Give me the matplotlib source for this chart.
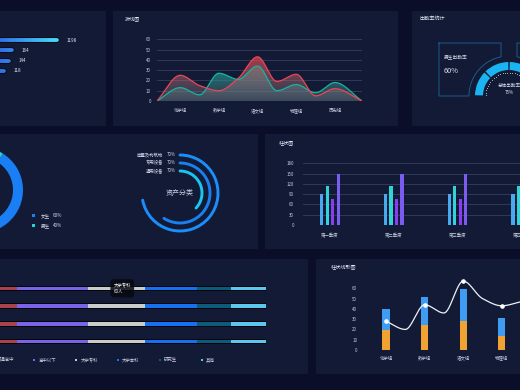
import numpy as np
import matplotlib.pyplot as plt
from matplotlib.patches import Rectangle, Wedge, Arc, Polygon
from matplotlib.collections import LineCollection
from matplotlib.colors import to_rgb

plt.rcParams['font.family'] = ['Noto Sans CJK SC', 'DejaVu Sans']

W, H = 520, 390
BG = '#0b0e28'
PANEL = '#131a35'
TITLE = '#e6eaf5'
TICK = '#c5cbdf'
GRID = '#383f5e'

#Data:
rank_values = [1198, 164, 144, 118]

line_cats = ['化学组', '数学组', '语文组', '物理组', '历史组']
line_x = [-0.6, 0, 0.5, 1, 1.5, 2, 2.5, 3, 3.5, 4, 4.7]
line_red = [0, 25, 15, 10, 22, 43, 19, 26, 5, 12, 0]
line_green = [0, 13, 6, 27, 21, 34, 10, 16, 8, 18, 0]

boy_rate = 60
total_rate = 75

gender_names = ['女生', '男生']
gender_pct = [60, 40]
gender_colors = ['#1a7ff5', '#22d3d8']

asset_names = ['房屋及构筑物', '专用设备', '通用设备']
asset_label_pct = [70, 70, 70]
asset_arc_pct = [72, 59, 37]

quarters = ['第一季度', '第二季度', '第三季度', '第四季度']
q_s1 = [90, 90, 90, 90]
q_s2 = [115, 115, 115, 115]
q_s3 = [75, 75, 75, 75]
q_s4 = [150, 150, 150, 150]

edu_names = ['普通高中', '高中以下', '大学专科', '大学本科', '研究生', '其他']
edu_rows = [
    [30, 75, 60, 55, 35, 37],
    [30, 75, 60, 55, 35, 37],
    [30, 75, 60, 55, 35, 37],
    [30, 75, 60, 55, 35, 37],
]
edu_colors = ['#a8434b', '#7a63e6', '#c9cdc9', '#1670f0', '#0e5a7a', '#5bc6ee']

combo_cats = ['化学组', '数学组', '语文组', '物理组']
combo_low = [19, 24, 28, 14]
combo_high = [21, 28, 31, 17]
combo_line_x = [0, 0.5, 1, 1.5, 2, 2.5, 3, 3.5]
combo_line = [28, 20, 44, 36, 67, 50, 43, 47]


def pchip(x, y, n=400):
    # monotone cubic, only used to draw the smooth lines
    x = np.asarray(x, float)
    y = np.asarray(y, float)
    h = np.diff(x)
    d = np.diff(y) / h
    m = np.zeros_like(y)
    for k in range(1, len(x) - 1):
        if d[k - 1] * d[k] > 0:
            w1 = 2 * h[k] + h[k - 1]
            w2 = h[k] + 2 * h[k - 1]
            m[k] = (w1 + w2) / (w1 / d[k - 1] + w2 / d[k])
    m[0] = d[0]
    m[-1] = d[-1]
    xs = np.linspace(x[0], x[-1], n)
    idx = np.clip(np.searchsorted(x, xs) - 1, 0, len(h) - 1)
    t = (xs - x[idx]) / h[idx]
    ys = ((2 * t**3 - 3 * t**2 + 1) * y[idx] + (t**3 - 2 * t**2 + t) * h[idx] * m[idx]
          + (-2 * t**3 + 3 * t**2) * y[idx + 1] + (t**3 - t**2) * h[idx] * m[idx + 1])
    return xs, ys


def px_axes(x0, y0, x1, y1):
    ax = fig.add_axes([x0 / W, 1 - y1 / H, (x1 - x0) / W, (y1 - y0) / H])
    ax.set_facecolor('none')
    for s in ax.spines.values():
        s.set_visible(False)
    return ax


def gradient_fill(ax, xs, ys, c_top, c_bot, a_top, a_bot, z):
    n = 256
    t = np.linspace(0, 1, n)
    top, bot = np.array(to_rgb(c_top)), np.array(to_rgb(c_bot))
    img = np.zeros((n, 1, 4))
    img[:, 0, :3] = bot + (top - bot) * t[:, None]
    img[:, 0, 3] = a_bot + (a_top - a_bot) * t
    im = ax.imshow(img, extent=[xs.min(), xs.max(), 0, ys.max()], origin='lower',
                   aspect='auto', zorder=z)
    verts = np.column_stack([np.r_[xs, xs[::-1]], np.r_[ys, np.zeros_like(ys)]])
    clip = Polygon(verts, closed=True, fc='none', ec='none', transform=ax.transData)
    ax.add_patch(clip)
    im.set_clip_path(clip)


fig = plt.figure(figsize=(5.2, 3.9), dpi=100, facecolor=BG)

#Background and panels:
bg = fig.add_axes([0, 0, 1, 1])
bg.set_xlim(0, W)
bg.set_ylim(H, 0)
bg.axis('off')
panels = [(-5, 10.5, 106, 126), (113, 10.5, 398, 125.5), (412, 10.5, 530, 126),
          (-5, 134, 258, 249), (265, 134, 530, 249),
          (-5, 259, 308, 374), (316, 259, 530, 374)]
for x0, y0, x1, y1 in panels:
    bg.add_patch(Rectangle((x0, y0), x1 - x0, y1 - y0, color=PANEL, lw=0))
for txt, x, y in [('折线图', 125, 18.5), ('出勤率统计', 420, 18.3),
                  ('柱状图', 279, 142.5), ('柱状线形图', 330.5, 267)]:
    bg.text(x, y, txt, color=TITLE, fontsize=3.7, va='center', ha='left')

#Panel A: ranking bars (left part cut off)
ax = px_axes(0, 35, 100, 76)
ax.set_xscale('log')
lo, hi = 99, 7830
for i, v in enumerate(rank_values):
    ax.plot([1, v], [i, i], color='#060918', lw=4.0, solid_capstyle='round', zorder=1)
    pts = np.geomspace(1, v, 81)
    segs = [[(pts[k], i), (pts[k + 1], i)] for k in range(80)]
    mid = np.sqrt(pts[:-1] * pts[1:])
    f = np.clip((np.log10(mid) - np.log10(lo)) / (np.log10(1198) - np.log10(lo)), 0, 1)
    c0, c1 = np.array(to_rgb('#2f6ee6')), np.array(to_rgb('#45d8f8'))
    cols = c0 + (c1 - c0) * f[:, None]
    ax.add_collection(LineCollection(segs, colors=cols, lw=2.7, capstyle='round', zorder=2))
    ax.annotate(str(v), (v, i), xytext=(7, 0), textcoords='offset points',
                va='center', ha='left', fontsize=3.3, color='#e0e4f0')
ax.set_xlim(lo, hi)
ax.set_ylim(3.5, -0.5)
ax.axis('off')

#Panel B: smooth area lines
ax = px_axes(157, 39.3, 362, 101)
xr, yr = pchip(line_x, line_red)
xg, yg = pchip(line_x, line_green)
gradient_fill(ax, xg, yg, '#0e9c8f', '#5d7380', 0.85, 0.3, 1)
gradient_fill(ax, xr, yr, '#d93f4d', '#7b8790', 0.8, 0.25, 2)
ax.plot(xg, yg, color='#14b79d', lw=0.9, zorder=3)
ax.plot(xr, yr, color='#ee4553', lw=0.9, zorder=4)
for yv in range(0, 70, 10):
    ax.axhline(yv, color=GRID, lw=0.6, zorder=0)
ax.set_xlim(line_x[0], line_x[-1])
ax.set_ylim(0, 60)
ax.set_yticks(range(0, 70, 10))
ax.set_xticks(range(len(line_cats)))
ax.set_xticklabels(line_cats)
ax.tick_params(length=0, labelsize=3.2, colors=TICK)
ax.tick_params(axis='y', pad=4.3)
ax.tick_params(axis='x', pad=4.9)

#Panel C: attendance gauge
ax = px_axes(429, 30, 589, 130)
ax.set_xlim(-80, 80)
ax.set_ylim(-34, 66)
ax.axis('off')
edges = np.linspace(180, 180 - 180 * total_rate / 100, 4)
for a, b in zip(edges[:-1], edges[1:]):
    ax.add_patch(Wedge((0, 0), 34, b + 1.3, a - 1.3, width=8, color='#1ab4f2', lw=0))
dots = np.radians(np.arange(178, 40, -6))
ax.scatter(23.5 * np.cos(dots), 23.5 * np.sin(dots), s=0.25, color='white', lw=0)
for sgn in (-1, 1):
    meet = np.sqrt(40**2 - 8**2)
    start = np.degrees(np.arctan2(meet, -8))
    ang = np.radians(np.linspace(start, 180, 40))
    bx = list(np.r_[-70, -8, -8, 40 * np.cos(ang), -70, -70])
    by = list(np.r_[53, 53, meet, 40 * np.sin(ang), 0, 53])
    ax.plot(sgn * np.array(bx), by, color='#1c5a8c', lw=0.7)
ax.text(-65, 39, '男生出勤率', color='#d6dbea', fontsize=3.4, va='center')
ax.text(-65, 25, f'{boy_rate}%', color='#d6dbea', fontsize=5.3, va='center')
ax.text(0, 11, '总体出勤率', color='#d6dbea', fontsize=3.3, ha='center', va='center')
ax.text(0, 3, f'{total_rate}%', color='#d6dbea', fontsize=3.3, ha='center', va='center')

#Panel D: gender donut (cut off) and asset arcs
ax = px_axes(-63, 147, 23, 233)
ax.pie(gender_pct, colors=gender_colors, startangle=58, counterclock=False,
       radius=1, wedgeprops=dict(width=0.233, lw=0))
ax.set_xlim(-1, 1)
ax.set_ylim(-1, 1)
ax.set_aspect('equal')
for i, (name, pct) in enumerate(zip(gender_names, gender_pct)):
    y = 215.7 + 10 * i
    bg.add_patch(Rectangle((31.7, y - 1.65), 3.3, 3.3, color=gender_colors[i], lw=0))
    bg.text(41, y, name, color='#cfd5e6', fontsize=3.3, va='center')
    bg.text(53, y, f'{pct}%', color='#cfd5e6', fontsize=3.3, va='center')

ax = px_axes(135, 148, 225, 238)
ax.set_xlim(-45, 45)
ax.set_ylim(-45, 45)
ax.axis('off')
radii = [38, 30, 22]
arc_colors = ['#1a8ffc', '#1a80f0', '#18c6f2']
for r, p, c, name, lp in zip(radii, asset_arc_pct, arc_colors, asset_names, asset_label_pct):
    ax.add_patch(Arc((0, 0), 2 * r, 2 * r, theta1=90 - 3.6 * p, theta2=90,
                     color=c, lw=2.1, capstyle='round'))
    ax.text(-16.7, r, name, color='#cfd5e6', fontsize=3.2, ha='right', va='center')
    ax.text(-13.3, r, f'{lp}%', color='#cfd5e6', fontsize=3.2, ha='left', va='center')
ax.text(0, 0, '资产分类', color='#cdd3e6', fontsize=5, ha='center', va='center')

#Panel E: quarterly grouped bars
ax = px_axes(303, 163.3, 558, 225)
x = np.arange(len(quarters))
step = 5.5 / 63.7
bw = 3.3 / 63.7
q_colors = ['#47a9f0', '#2fd3d8', '#8a3df2', '#7a5df0']
for k, (s, c) in enumerate(zip([q_s1, q_s2, q_s3, q_s4], q_colors)):
    ax.bar(x + (k - 1.5) * step, s, width=bw, color=c, zorder=2)
for yv in range(0, 210, 30):
    ax.axhline(yv, color=GRID, lw=0.6, zorder=0)
ax.set_xlim(-0.424, -0.424 + 255 / 63.7)
ax.set_ylim(0, 180)
ax.set_yticks(range(0, 210, 30))
ax.set_xticks(x)
ax.set_xticklabels(quarters)
ax.tick_params(length=0, labelsize=3.2, colors=TICK)
ax.tick_params(axis='y', pad=6.5)
ax.tick_params(axis='x', pad=6.2)

#Panel F: education stacked bars (left part cut off)
ax = px_axes(-11.7, 279.4, 265.7, 350.6)
for r, row in enumerate(edu_rows):
    ax.barh(r, sum(row), height=0.3, color='#04060d', zorder=1)
    left = 0
    for v, c in zip(row, edu_colors):
        ax.barh(r, v, left=left, height=0.18, color=c, lw=0, zorder=2)
        left += v
tip_x = sum(edu_rows[0][:2]) + edu_rows[0][2] * 0.6
ax.text(tip_x, 0, f'{edu_names[2]}\n{edu_rows[0][2]}人', color='white', fontsize=3.2,
        ha='center', va='center', multialignment='left', linespacing=1.5, zorder=5,
        bbox=dict(boxstyle='round,pad=0.7', fc='#07080f', ec='none', alpha=0.85))
ax.set_xlim(0, sum(edu_rows[0]))
ax.set_ylim(3.5, -0.5)
ax.axis('off')
for i, (name, c) in enumerate(zip(edu_names, edu_colors)):
    dx = -7.5 + 41.8 * i
    bg.add_patch(Rectangle((dx - 1, 359), 2, 2, color=c, lw=0))
    bg.text(dx + 4.4, 360, name, color='#c8cee0', fontsize=3.2, va='center')

#Panel G: stacked bars with smooth line
ax = px_axes(360, 288.3, 560, 350)
x = np.arange(len(combo_cats))
ax.bar(x, combo_low, width=0.19, color='#f0a232', zorder=2)
ax.bar(x, combo_high, bottom=combo_low, width=0.19, color='#3f9cf2', zorder=2)
lx, ly = pchip(combo_line_x, combo_line)
ax.plot(lx, ly, color='#eef1f7', lw=0.9, zorder=3, clip_on=False)
pts_x = [v for v in combo_line_x if v == int(v)]
pts_y = [combo_line[combo_line_x.index(v)] for v in pts_x]
ax.plot(pts_x, pts_y, 'o', color='white', ms=2.3, zorder=4, clip_on=False)
ax.set_xlim(-0.674, -0.674 + 200 / 38.6)
ax.set_ylim(0, 60)
ax.set_yticks(range(0, 70, 10))
ax.set_xticks(x)
ax.set_xticklabels(combo_cats)
ax.tick_params(length=0, labelsize=3.2, colors=TICK)
ax.tick_params(axis='y', pad=2)
ax.tick_params(axis='x', pad=4)

fig.savefig('out.png', dpi=100, facecolor=BG)
